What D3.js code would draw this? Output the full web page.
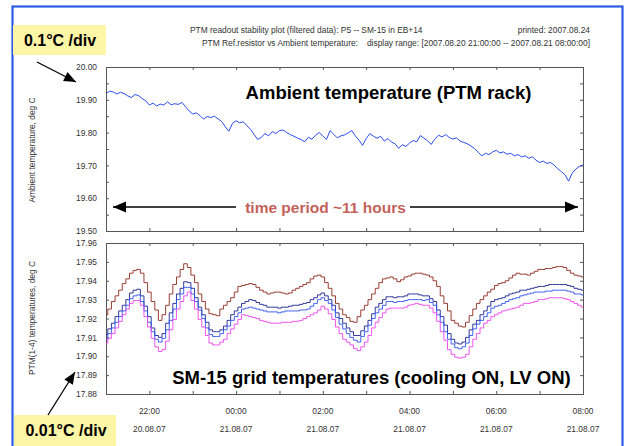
<!DOCTYPE html>
<html><head><meta charset="utf-8">
<script src="https://cdn.jsdelivr.net/npm/d3@7"></script>
<style>body{margin:0;background:#fff;} svg{display:block;font-family:"Liberation Sans",Arial,Helvetica,sans-serif;}</style>
</head><body><svg id="c" width="627" height="446"></svg>
<script>
// ---------------- data ----------------
const startTime = "2007-08-20T21:00:00Z";
const endTime = "2007-08-21T08:00:00Z";
const sampleMinutes = 5;

const ambient = [19.920,19.926,19.924,19.918,19.923,19.919,19.912,19.907,19.916,19.913,
19.904,19.897,19.884,19.890,19.881,19.887,19.884,19.894,19.885,19.888,
19.886,19.892,19.879,19.866,19.857,19.860,19.852,19.841,19.849,19.846,
19.850,19.842,19.834,19.818,19.804,19.828,19.836,19.830,19.833,19.821,
19.810,19.794,19.779,19.786,19.797,19.790,19.803,19.797,19.806,19.808,
19.800,19.794,19.789,19.783,19.779,19.772,19.786,19.780,19.792,19.800,
19.790,19.779,19.806,19.795,19.784,19.790,19.793,19.799,19.806,19.790,
19.777,19.761,19.782,19.797,19.789,19.783,19.789,19.774,19.782,19.771,
19.766,19.752,19.763,19.758,19.768,19.776,19.772,19.791,19.783,19.775,
19.764,19.780,19.792,19.787,19.794,19.785,19.780,19.784,19.774,19.770,
19.766,19.759,19.751,19.740,19.729,19.737,19.733,19.741,19.746,19.738,
19.741,19.734,19.737,19.729,19.733,19.726,19.729,19.722,19.726,19.716,
19.709,19.713,19.706,19.709,19.701,19.690,19.681,19.672,19.652,19.676,
19.689,19.697,19.701];

const ptm1 = [17.922,17.925,17.929,17.932,17.935,17.9385,17.941,17.944,17.9455,17.946,
17.944,17.939,17.934,17.929,17.9245,17.919,17.922,17.927,17.933,17.938,
17.942,17.946,17.949,17.947,17.943,17.939,17.933,17.929,17.925,17.9225,
17.922,17.9215,17.925,17.927,17.929,17.931,17.934,17.937,17.9375,17.938,
17.9385,17.938,17.9365,17.935,17.934,17.933,17.9335,17.934,17.934,17.9335,
17.933,17.9335,17.935,17.936,17.937,17.938,17.939,17.941,17.9425,17.943,
17.942,17.939,17.936,17.932,17.928,17.925,17.922,17.9205,17.9185,17.918,
17.921,17.9245,17.927,17.930,17.933,17.936,17.939,17.941,17.9415,17.942,
17.941,17.9395,17.9405,17.942,17.9425,17.9435,17.944,17.944,17.9435,17.943,
17.942,17.940,17.937,17.932,17.928,17.924,17.919,17.9175,17.916,17.9155,
17.918,17.9215,17.925,17.928,17.930,17.932,17.934,17.9355,17.9375,17.9385,
17.939,17.940,17.9415,17.943,17.944,17.9435,17.9435,17.943,17.944,17.945,
17.946,17.946,17.9465,17.9465,17.947,17.9475,17.9475,17.947,17.9455,17.944,
17.943,17.9425,17.942];

const ptm2 = [17.9115,17.9145,17.9175,17.921,17.924,17.927,17.930,17.9335,17.935,17.9355,
17.932,17.9265,17.921,17.915,17.911,17.910,17.912,17.9175,17.923,17.928,
17.933,17.936,17.9395,17.939,17.936,17.931,17.926,17.922,17.918,17.914,
17.913,17.913,17.914,17.916,17.919,17.922,17.924,17.926,17.928,17.929,
17.930,17.9295,17.9285,17.9275,17.927,17.926,17.926,17.926,17.9255,17.926,
17.926,17.9265,17.927,17.927,17.9275,17.928,17.9285,17.930,17.931,17.9325,
17.9335,17.932,17.930,17.927,17.923,17.920,17.9175,17.915,17.913,17.911,
17.911,17.9135,17.916,17.919,17.9225,17.926,17.928,17.930,17.9315,17.9315,
17.931,17.9315,17.9315,17.932,17.933,17.933,17.933,17.9325,17.932,17.932,
17.9305,17.929,17.9245,17.921,17.9165,17.912,17.909,17.907,17.9065,17.9075,
17.910,17.914,17.917,17.919,17.922,17.924,17.9265,17.929,17.930,17.9305,
17.931,17.932,17.933,17.9335,17.934,17.935,17.935,17.9355,17.936,17.9365,
17.937,17.937,17.9375,17.938,17.938,17.938,17.938,17.938,17.9375,17.937,
17.936,17.9355,17.935];

const ptm3 = [17.909,17.912,17.915,17.918,17.921,17.924,17.927,17.9305,17.932,17.9325,
17.929,17.924,17.918,17.913,17.909,17.9075,17.9095,17.914,17.919,17.925,
17.930,17.933,17.9365,17.9365,17.933,17.929,17.9245,17.920,17.915,17.9115,
17.9105,17.9105,17.912,17.914,17.916,17.919,17.921,17.923,17.925,17.9255,
17.926,17.9255,17.925,17.9245,17.924,17.9235,17.9235,17.9235,17.923,17.9235,
17.924,17.924,17.924,17.924,17.9245,17.9245,17.925,17.9265,17.928,17.930,
17.931,17.9295,17.928,17.9245,17.9205,17.917,17.9145,17.912,17.910,17.9085,
17.9075,17.9105,17.913,17.9165,17.920,17.923,17.925,17.927,17.929,17.929,
17.9285,17.929,17.929,17.9295,17.930,17.930,17.930,17.930,17.9295,17.930,
17.9285,17.927,17.922,17.918,17.913,17.909,17.9065,17.9045,17.904,17.905,
17.907,17.911,17.9145,17.917,17.919,17.921,17.923,17.9255,17.9265,17.927,
17.928,17.929,17.930,17.9305,17.931,17.932,17.9325,17.933,17.9335,17.934,
17.934,17.934,17.9345,17.9345,17.935,17.935,17.935,17.935,17.9345,17.934,
17.933,17.933,17.9325];

const ptm4 = [17.907,17.9095,17.912,17.915,17.9185,17.922,17.925,17.928,17.9295,17.9295,
17.927,17.921,17.9155,17.9095,17.905,17.9025,17.9035,17.908,17.914,17.9195,
17.925,17.929,17.932,17.934,17.9295,17.925,17.9195,17.9155,17.911,17.907,
17.906,17.906,17.9075,17.909,17.912,17.9145,17.917,17.9195,17.922,17.9215,
17.921,17.9205,17.920,17.919,17.9185,17.918,17.9175,17.9175,17.9175,17.918,
17.918,17.918,17.9185,17.9185,17.919,17.920,17.921,17.922,17.923,17.9245,
17.9265,17.925,17.9225,17.9195,17.9155,17.912,17.909,17.9075,17.906,17.904,
17.903,17.905,17.9075,17.911,17.915,17.918,17.9205,17.923,17.925,17.9255,
17.9255,17.9255,17.9255,17.926,17.927,17.9275,17.928,17.9275,17.927,17.927,
17.9255,17.923,17.9185,17.913,17.9085,17.9035,17.901,17.8995,17.899,17.8995,
17.901,17.905,17.909,17.912,17.915,17.9175,17.919,17.921,17.922,17.923,
17.924,17.9245,17.925,17.9255,17.926,17.927,17.928,17.928,17.9285,17.929,
17.930,17.930,17.9305,17.931,17.931,17.931,17.931,17.9305,17.930,17.929,
17.928,17.927,17.926];

const ambientMajorTicks = [19.50,19.60,19.70,19.80,19.90,20.00];
const ambientMinorTicks = [19.55,19.65,19.75,19.85,19.95];
const ptmTicks = [17.88,17.89,17.90,17.91,17.92,17.93,17.94,17.95,17.96];
const seriesColors = ["#8e2a1e","#1c2590","#2f52f2","#ee44ee"];

// ---------------- layout ----------------
const svg = d3.select("#c");
const P1 = {x0:106, x1:583, y0:67, y1:231};
const P2 = {x0:106, x1:583, y0:243, y1:394};
const axisColor = "#555";
const textColor = "#333";
const fs = 8.4;

const t0 = new Date(startTime), t1 = new Date(endTime);
const timeAt = i => new Date(t0.getTime() + i*sampleMinutes*60000);

const x = d3.scaleUtc().domain([t0,t1]).range([P1.x0,P1.x1]);
const y1 = d3.scaleLinear().domain([19.5,20.0]).range([P1.y1,P1.y0]);
const y2 = d3.scaleLinear().domain([17.88,17.96]).range([P2.y1,P2.y0]);

// outer blue frame
svg.append("rect").attr("x",12.5).attr("y",6.5).attr("width",610).attr("height",470)
  .attr("fill","none").attr("stroke","#2c5be6").attr("stroke-width",2.2);

// header
const hdr = svg.append("g").attr("font-size",fs).attr("fill",textColor);
hdr.append("text").attr("x",190).attr("y",33).text("PTM readout stability plot (filtered data):  P5 -- SM-15 in EB+14");
hdr.append("text").attr("x",590).attr("y",33).attr("text-anchor","end").text("printed: 2007.08.24");
hdr.append("text").attr("x",202).attr("y",46).text("PTM Ref.resistor vs Ambient temperature:");
hdr.append("text").attr("x",590).attr("y",46).attr("text-anchor","end").text("display range: [2007.08.20 21:00:00 -- 2007.08.21 08:00:00]");

function styleAxis(g){
  g.select(".domain").remove();
  g.selectAll(".tick line").attr("stroke",axisColor);
  g.selectAll("text").attr("fill",textColor).attr("font-size",fs).attr("font-family",null);
}

function panelFrame(P, yScale, majors, minors, fmt){
  svg.append("g").attr("transform",`translate(0,${P.y1})`)
    .call(d3.axisBottom(x).ticks(d3.utcHour.every(1)).tickSizeInner(-3).tickSizeOuter(0).tickFormat(""))
    .call(styleAxis);
  svg.append("g").attr("transform",`translate(0,${P.y0})`)
    .call(d3.axisTop(x).ticks(d3.utcHour.every(1)).tickSizeInner(-3).tickSizeOuter(0).tickFormat(""))
    .call(styleAxis);
  svg.append("g").attr("transform",`translate(${P.x0},0)`)
    .call(d3.axisLeft(yScale).tickValues(majors).tickSizeInner(-3).tickSizeOuter(0).tickPadding(9).tickFormat(fmt))
    .call(styleAxis);
  svg.append("g").attr("transform",`translate(${P.x1},0)`)
    .call(d3.axisRight(yScale).tickValues(majors).tickSizeInner(-3).tickSizeOuter(0).tickFormat(""))
    .call(styleAxis);
  if (minors){
    svg.append("g").attr("transform",`translate(${P.x0},0)`)
      .call(d3.axisLeft(yScale).tickValues(minors).tickSizeInner(-3).tickSizeOuter(0).tickFormat(""))
      .call(styleAxis);
    svg.append("g").attr("transform",`translate(${P.x1},0)`)
      .call(d3.axisRight(yScale).tickValues(minors).tickSizeInner(-3).tickSizeOuter(0).tickFormat(""))
      .call(styleAxis);
  }
  svg.append("rect").attr("x",P.x0+0.5).attr("y",P.y0+0.5)
    .attr("width",P.x1-P.x0).attr("height",P.y1-P.y0)
    .attr("fill","none").attr("stroke",axisColor).attr("stroke-width",1);
}

panelFrame(P1, y1, ambientMajorTicks, ambientMinorTicks, d3.format(".2f"));
panelFrame(P2, y2, ptmTicks, null, d3.format(".2f"));

// x labels under bottom panel
const labelTicks = x.ticks(d3.utcHour.every(2));
const fH = d3.utcFormat("%H:%M"), fD = d3.utcFormat("%d.%m.%y");
const xl = svg.append("g").attr("font-size",fs).attr("fill",textColor).attr("text-anchor","middle");
labelTicks.forEach(d=>{
  xl.append("text").attr("x",x(d)).attr("y",414).text(fH(d));
  xl.append("text").attr("x",x(d)).attr("y",432).text(fD(d));
});

// y axis titles
svg.append("text").attr("transform","translate(35,150) rotate(-90)").attr("text-anchor","middle")
  .attr("font-size",fs).attr("fill",textColor).text("Ambient temperature, deg C");
svg.append("text").attr("transform","translate(35,318) rotate(-90)").attr("text-anchor","middle")
  .attr("font-size",fs).attr("fill",textColor).text("PTM(1-4) temperatures, deg C");

// lines
const lineTop = d3.line().x((d,i)=>x(timeAt(i))).y(d=>y1(d));
svg.append("path").datum(ambient).attr("d",lineTop).attr("fill","none")
  .attr("stroke","#2a4cf0").attr("stroke-width",1);

const lineBot = d3.line().x((d,i)=>x(timeAt(i))).y(d=>y2(d)).curve(d3.curveStep);
[ptm1,ptm2,ptm3,ptm4].forEach((s,k)=>{
  svg.append("path").datum(s).attr("d",lineBot).attr("fill","none")
    .attr("stroke",seriesColors[k]).attr("stroke-width",0.9);
});

// titles in panels
svg.append("text").attr("x",388.5).attr("y",98.5).attr("text-anchor","middle")
  .attr("font-size",18.5).attr("font-weight","bold").attr("fill","#000").text("Ambient temperature (PTM rack)");
svg.append("text").attr("x",371.5).attr("y",383.5).attr("text-anchor","middle")
  .attr("font-size",18.5).attr("font-weight","bold").attr("fill","#000").text("SM-15 grid temperatures (cooling ON, LV ON)");

// arrow helper
function arrow(xa,ya,xb,yb,len,half){
  const g = svg.append("g");
  g.append("line").attr("x1",xa).attr("y1",ya).attr("x2",xb).attr("y2",yb).attr("stroke","#000").attr("stroke-width",1.3);
  const a = Math.atan2(yb-ya, xb-xa);
  const bx = xb - len*Math.cos(a), by = yb - len*Math.sin(a);
  const px = -Math.sin(a)*half, py = Math.cos(a)*half;
  g.append("path").attr("d",`M${xb},${yb}L${bx+px},${by+py}L${bx-px},${by-py}Z`).attr("fill","#000");
}

// time period arrow
const ay = 207;
arrow(236, ay, 113, ay, 13, 5.5);
arrow(410, ay, 578, ay, 13, 5.5);
svg.append("text").attr("x",325.5).attr("y",212.5).attr("text-anchor","middle")
  .attr("font-size",15.5).attr("font-weight","bold").attr("fill","#c4625a").text("time period ~11 hours");

// yellow boxes
svg.append("rect").attr("x",13).attr("y",25).attr("width",93).attr("height",30).attr("fill","#fdf6a6");
svg.append("text").attr("x",60).attr("y",46).attr("text-anchor","middle").attr("font-size",16)
  .attr("font-weight","bold").attr("fill","#000").text("0.1°C /div");
svg.append("rect").attr("x",14).attr("y",415).attr("width",102).attr("height",40).attr("fill","#fdf6a6");
svg.append("text").attr("x",66).attr("y",436).attr("text-anchor","middle").attr("font-size",16)
  .attr("font-weight","bold").attr("fill","#000").text("0.01°C /div");

arrow(37,62,76,82,12,5);
arrow(48,415,75,372,12,5);
</script></body></html>
